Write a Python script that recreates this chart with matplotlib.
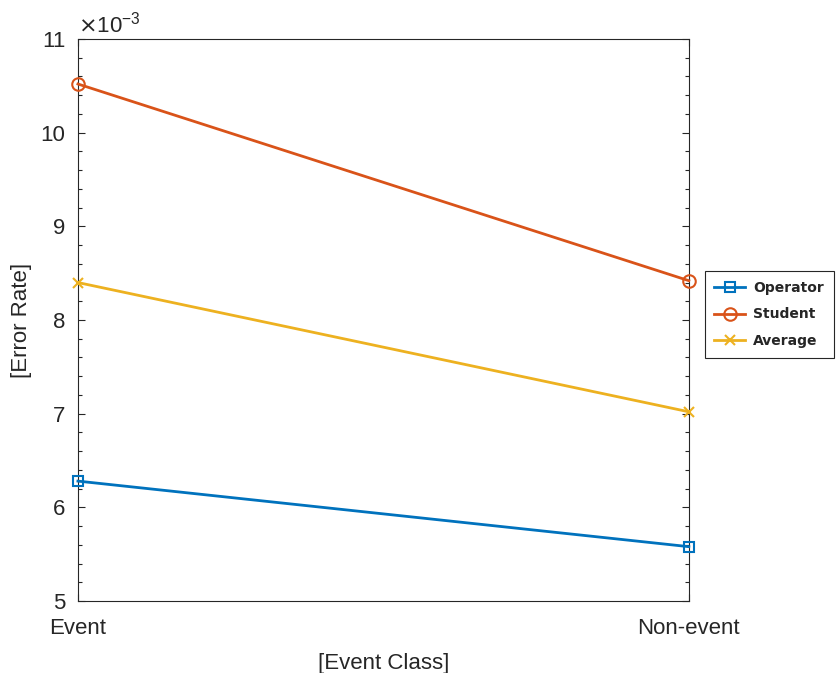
import matplotlib.pyplot as plt
from matplotlib.ticker import FuncFormatter, MultipleLocator

# Data
classes = ["Event", "Non-event"]
operator = [6.28e-3, 5.58e-3]
student = [10.52e-3, 8.42e-3]
average = [8.40e-3, 7.02e-3]

plt.rcParams['font.family'] = ['Liberation Sans', 'DejaVu Sans']
plt.rcParams['axes.unicode_minus'] = False

fig = plt.figure(figsize=(8.38, 6.73), dpi=100)
ax = fig.add_axes([0.093, 0.107, 0.729, 0.835])

x = list(range(len(classes)))
ax.plot(x, operator, color='#0072BD', lw=2, marker='s', ms=7, mfc='none', mew=1.5, label='Operator', clip_on=False, zorder=3)
ax.plot(x, student, color='#D95319', lw=2, marker='o', ms=9, mfc='none', mew=1.5, label='Student', clip_on=False, zorder=3)
ax.plot(x, average, color='#EDB120', lw=2, marker='x', ms=7, mew=1.5, label='Average', clip_on=False, zorder=3)

ax.set_xlim(0, 1)
ax.set_ylim(5e-3, 11e-3)
ax.set_xticks(x)
ax.set_xticklabels(classes)
ax.yaxis.set_major_locator(MultipleLocator(1e-3))
ax.yaxis.set_minor_locator(MultipleLocator(0.2e-3))
ax.yaxis.set_major_formatter(FuncFormatter(lambda v, _: f"{v * 1e3:.0f}"))
ax.text(0.0, 1.003, r'$\times$10$^{\mathregular{-3}}$', transform=ax.transAxes, fontsize=16,
        color='#262626', ha='left', va='bottom')

ax.tick_params(which='both', direction='in', top=True, right=True, colors='#262626', labelsize=16, width=0.8)
ax.tick_params(which='major', length=5)
ax.tick_params(which='minor', length=3)
ax.tick_params(axis='x', pad=12)
ax.tick_params(axis='y', pad=9)
for s in ax.spines.values():
    s.set_color('#262626')
    s.set_linewidth(0.8)

ax.set_xlabel('[Event Class]', fontsize=16, color='#262626', labelpad=10)
ax.set_ylabel('[Error Rate]', fontsize=16, color='#262626', labelpad=6)

leg = ax.legend(loc='upper left', bbox_to_anchor=(0.841, 0.597), bbox_transform=fig.transFigure,
                fancybox=False, edgecolor='#262626', prop={'family': 'DejaVu Sans', 'weight': 'bold', 'size': 10},
                handlelength=2.2, borderaxespad=0, framealpha=1, labelspacing=0.9, borderpad=0.7,
                handletextpad=0.6)
leg.get_frame().set_linewidth(0.8)
for t in leg.get_texts():
    t.set_color('#262626')

fig.savefig('out.png', dpi=100)
